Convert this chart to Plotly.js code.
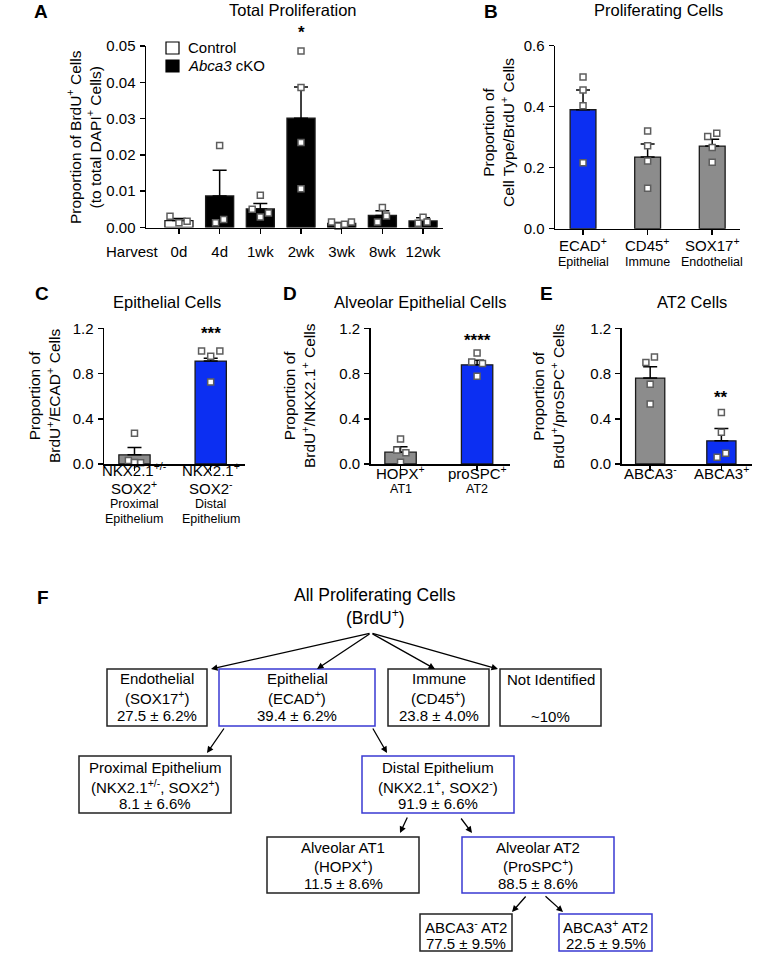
<!DOCTYPE html>
<html><head><meta charset="utf-8">
<script src="https://cdn.plot.ly/plotly-3.0.1.min.js"></script>
<style>html,body{margin:0;padding:0;background:#fff}</style>
</head><body><div id="chart" style="width:759px;height:953px"></div>
<script>
// ---------------- DATA ----------------
// Panel A: Total Proliferation
const harvestLabels = ['0d','4d','1wk','2wk','3wk','8wk','12wk'];
const harvestGroup  = ['Control','cKO','cKO','cKO','cKO','cKO','cKO'];
const totalMean = [0.0019,0.0087,0.0051,0.0301,0.0011,0.0033,0.0018];
const totalSem  = [0.0006,0.0071,0.0015,0.0086,0.0003,0.0013,0.0009];
const totalPoints = [[0.0031,0.0013,0.0017],[0.0013,0.0226,0.0022],[0.0050,0.0029,0.0040,0.0089],
  [0.0486,0.0386,0.0234,0.0107],[0.0015,0.0004,0.0009,0.0015],[0.0015,0.0055,0.0032],[0.0012,0.0028,0.0015]];
const totalJitter = [[-0.22,0,0.2],[-0.1,0,0.1],[-0.2,0,0.2,0],[0,0,0,0],[-0.25,-0.09,0.07,0.24],[-0.12,0,0.1],[-0.12,0,0.1]];

// Panel B: Proliferating Cells
const typeLabels = ['ECAD<sup>+</sup>','CD45<sup>+</sup>','SOX17<sup>+</sup>'];
const typeSub    = ['Epithelial','Immune','Endothelial'];
const typeMean = [0.390,0.235,0.271];
const typeSem  = [0.065,0.043,0.022];
const typePoints = [[0.497,0.455,0.403,0.216],[0.320,0.272,0.222,0.133],[0.302,0.313,0.266,0.218]];
const typeJitter = [[0,0,0,0],[0,0,0,0],[-0.07,0.07,0,0]];

// Panel C: Epithelial Cells
const epiLabels = [['NKX2.1<sup>+/-</sup>','SOX2<sup>+</sup>'],['NKX2.1<sup>+</sup>','SOX2<sup>-</sup>']];
const epiSub    = [['Proximal','Epithelium'],['Distal','Epithelium']];
const epiMean = [0.081,0.910];
const epiSem  = [0.066,0.026];
const epiPoints = [[0.271,0.030,0.010,0.014],[1.0,1.0,0.953,0.726]];
const epiJitter = [[0,-0.08,0.08,0],[-0.12,0.12,0,0]];

// Panel D: Alveolar Epithelial Cells
const alvLabels = ['HOPX<sup>+</sup>','proSPC<sup>+</sup>'];
const alvSub    = ['AT1','AT2'];
const alvMean = [0.105,0.877];
const alvSem  = [0.047,0.041];
const alvPoints = [[0.220,0.124,0.100,0.015],[0.982,0.903,0.889,0.777]];
const alvJitter = [[0,-0.05,0.07,0],[0,-0.07,0.07,0]];

// Panel E: AT2 Cells
const at2Labels = ['ABCA3<sup>-</sup>','ABCA3<sup>+</sup>'];
const at2Mean = [0.760,0.205];
const at2Sem  = [0.100,0.110];
const at2Points = [[0.898,0.947,0.706,0.530],[0.456,0.280,0.094,0.060]];
const at2Jitter = [[-0.06,0.06,0,0],[0,0,0.06,-0.06]];

// Panel F: flowchart texts
const flowTitle = ['All Proliferating Cells','(BrdU<sup>+</sup>)'];
const flowBoxes = [
  ['Endothelial','(SOX17<sup>+</sup>)','27.5 ± 6.2%'],
  ['Epithelial','(ECAD<sup>+</sup>)','39.4 ± 6.2%'],
  ['Immune','(CD45<sup>+</sup>)','23.8 ± 4.0%'],
  ['Not Identified','','~10%'],
  ['Proximal Epithelium','(NKX2.1<sup>+/-</sup>, SOX2<sup>+</sup>)','8.1 ± 6.6%'],
  ['Distal Epithelium','(NKX2.1<sup>+</sup>, SOX2<sup>-</sup>)','91.9 ± 6.6%'],
  ['Alveolar AT1','(HOPX<sup>+</sup>)','11.5 ± 8.6%'],
  ['Alveolar AT2','(ProSPC<sup>+</sup>)','88.5 ± 8.6%'],
  ['ABCA3<sup>-</sup> AT2','77.5 ± 9.5%'],
  ['ABCA3<sup>+</sup> AT2','22.5 ± 9.5%']
];
const flowHighlight = [false,true,false,false,false,true,false,true,false,true];

// ---------------- STYLE / LAYOUT ----------------
const W=759, H=953;
const FONT='Liberation Sans, Arial, Helvetica, sans-serif';
const BLUE='#0c2ff2', GRAY='#8c8c8c', BOXBLUE='#3a3ad2';
const X=p=>p/W, Y=p=>1-p/H;
const traces=[], annotations=[], shapes=[];

function barTrace(ax, ay, xs, ys, sem, colors, extra){
  return {type:'bar', x:xs, y:ys, xaxis:ax, yaxis:ay, width:extra.width,
    marker:{color:colors, line:{color:'#1a1a1a', width:1.3}},
    error_y:{type:'data', symmetric:false, array:sem, arrayminus:sem.map(()=>0), color:'#000', thickness:1.5, width:extra.cap},
    showlegend:false, hoverinfo:'skip'};
}
function ptsTrace(ax, ay, pts, jit){
  const xs=[], ys=[];
  pts.forEach((arr,i)=>arr.forEach((v,j)=>{xs.push(i+jit[i][j]); ys.push(v);}));
  return {type:'scatter', mode:'markers', x:xs, y:ys, xaxis:ax, yaxis:ay, showlegend:false, hoverinfo:'skip', cliponaxis:false,
    marker:{symbol:'square', size:6, color:'#fff', line:{color:'#5e5e5e', width:1.5}}};
}

// Panel A bars
const idx = harvestLabels.map((_,i)=>i);
const ctrl = idx.filter(i=>harvestGroup[i]==='Control');
const cko  = idx.filter(i=>harvestGroup[i]==='cKO');
traces.push(barTrace('x','y', ctrl, ctrl.map(i=>totalMean[i]), ctrl.map(i=>totalSem[i]), '#fff', {width:0.69, cap:7}));
traces.push(barTrace('x','y', cko, cko.map(i=>totalMean[i]), cko.map(i=>totalSem[i]), '#000', {width:0.69, cap:7}));
traces.push(ptsTrace('x','y', totalPoints, totalJitter));
// Panel B
traces.push(barTrace('x2','y2',[0,1,2], typeMean, typeSem, [BLUE,GRAY,GRAY], {width:0.40, cap:7}));
traces.push(ptsTrace('x2','y2', typePoints, typeJitter));
// Panel C
traces.push(barTrace('x3','y3',[0,1], epiMean, epiSem, [GRAY,BLUE], {width:0.41, cap:7}));
traces.push(ptsTrace('x3','y3', epiPoints, epiJitter));
// Panel D
traces.push(barTrace('x4','y4',[0,1], alvMean, alvSem, [GRAY,BLUE], {width:0.41, cap:7}));
traces.push(ptsTrace('x4','y4', alvPoints, alvJitter));
// Panel E
traces.push(barTrace('x5','y5',[0,1], at2Mean, at2Sem, [GRAY,BLUE], {width:0.41, cap:7}));
traces.push(ptsTrace('x5','y5', at2Points, at2Jitter));

const axBase = {showline:true, linecolor:'#000', linewidth:1.5, ticks:'outside', ticklen:5, tickwidth:1.5, tickcolor:'#000',
  showgrid:false, zeroline:false, fixedrange:true, tickfont:{size:15, color:'#000', family:FONT}};
function xa(d0,d1,r0,r1,anchor,extra){return Object.assign({},axBase,{domain:[X(d0),X(d1)], range:[r0,r1], anchor:anchor, tickvals:[], showticklabels:false},extra||{});}
function ya(top,bot,rmax,dt,fmt,anchor){return Object.assign({},axBase,{domain:[Y(bot),Y(top)], range:[0,rmax], dtick:dt, tick0:0, tickformat:fmt, anchor:anchor, ticklabelstandoff:1});}

function txt(x,y,text,size,opts){return Object.assign({xref:'paper',yref:'paper',x:X(x),y:Y(y),text:text,showarrow:false,
  font:{size:size,color:'#000',family:FONT},xanchor:'center',yanchor:'middle'},opts||{});}
function axtxt(xref,x,y,text,size){return {xref:xref,yref:'paper',x:x,y:Y(y),text:text,showarrow:false,
  font:{size:size,color:'#000',family:FONT},xanchor:'center',yanchor:'middle'};}

// panel letters & titles
[['A',41,12],['B',491,12],['C',42,293],['D',290,293],['E',546,293],['F',43,597]].forEach(l=>
  annotations.push(txt(l[1],l[2],'<b>'+l[0]+'</b>',19)));
annotations.push(txt(292,10,'Total Proliferation',16.5));
annotations.push(txt(658,10,'Proliferating Cells',16.5));
annotations.push(txt(167,302,'Epithelial Cells',16.5));
annotations.push(txt(420,302,'Alveolar Epithelial Cells',16.5));
annotations.push(txt(692,302,'AT2 Cells',16.5));
// y-axis titles
annotations.push(txt(84,137,'Proportion of BrdU<sup>+</sup> Cells<br>(to total DAPI<sup>+</sup> Cells)',15.5,{textangle:-90}));
annotations.push(txt(498,133,'Proportion of<br>Cell Type/BrdU<sup>+</sup> Cells',15.5,{textangle:-90}));
annotations.push(txt(45,396,'Proportion of<br>BrdU<sup>+</sup>/ECAD<sup>+</sup> Cells',15.5,{textangle:-90}));
annotations.push(txt(300,396,'Proportion of<br>BrdU<sup>+</sup>/NKX2.1<sup>+</sup> Cells',15.5,{textangle:-90}));
annotations.push(txt(549,396,'Proportion of<br>BrdU<sup>+</sup>/proSPC<sup>+</sup> Cells',15.5,{textangle:-90}));
// Panel A extras
annotations.push(txt(132,251,'Harvest',15));
annotations.push(axtxt('x',3,33,'<b>*</b>',17));
shapes.push({type:'rect',xref:'paper',yref:'paper',x0:X(166),x1:X(179),y0:Y(54),y1:Y(42),line:{color:'#000',width:1.2},fillcolor:'#fff'});
shapes.push({type:'rect',xref:'paper',yref:'paper',x0:X(166),x1:X(179),y0:Y(72),y1:Y(60),line:{color:'#000',width:1.2},fillcolor:'#000'});
annotations.push(txt(186,48,'Control',15,{xanchor:'left'}));
annotations.push(txt(186,66,'<i>Abca3</i> cKO',15,{xanchor:'left'}));
// Panel B tick labels
typeLabels.forEach((t,i)=>{annotations.push(axtxt('x2',i,245,t,15)); annotations.push(axtxt('x2',i,262,typeSub[i],12.5));});
// Panel C tick labels
epiLabels.forEach((t,i)=>{annotations.push(axtxt('x3',i,469.5,t[0],15)); annotations.push(axtxt('x3',i,488,t[1],15));
  annotations.push(axtxt('x3',i,504,epiSub[i][0],12.5)); annotations.push(axtxt('x3',i,519,epiSub[i][1],12.5));});
annotations.push(axtxt('x3',1,333,'<b>***</b>',17));
// Panel D
alvLabels.forEach((t,i)=>{annotations.push(axtxt('x4',i,472,t,15)); annotations.push(axtxt('x4',i,488.5,alvSub[i],12.5));});
annotations.push(axtxt('x4',1,340,'<b>****</b>',17));
// Panel E
at2Labels.forEach((t,i)=>annotations.push(axtxt('x5',i,472,t,15)));
annotations.push(axtxt('x5',1,398,'<b>**</b>',17));

// ---------------- Panel F flowchart geometry ----------------
annotations.push(txt(375,595,flowTitle[0],17.5));
annotations.push(txt(375,617,flowTitle[1],17.5));
const boxGeom = [ // x0,x1,y0,y1, line y positions
  [107,207,669,726,[678,697,715]],
  [219,375,669,726,[678,697,715]],
  [388,489,669,726,[678,697,715]],
  [500,601,669,726,[679,697,716]],
  [79,231,756,813,[767,786,803]],
  [362,514,756,813,[767,786,803]],
  [267,419,837,893,[847,865,883]],
  [462,614,837,893,[847,865,883]],
  [420,512,914,951,[926,943]],
  [559,652,914,951,[926,943]]
];
flowBoxes.forEach((lines,i)=>{
  const g=boxGeom[i];
  shapes.push({type:'rect',xref:'paper',yref:'paper',x0:X(g[0]),x1:X(g[1]),y0:Y(g[3]),y1:Y(g[2]),
    line:{color:flowHighlight[i]?BOXBLUE:'#222',width:1.5},fillcolor:'rgba(0,0,0,0)'});
  lines.forEach((t,j)=>{ if(t) annotations.push(txt((g[0]+g[1])/2,g[4][j],t,15)); });
});
const arrows = [ // tail x,y -> tip x,y
  [371,633,211,669],[371,633,317,669],[371,633,435,669],[371,633,498,669],
  [225,727,207,753],[372,727,387,753],
  [408,816,400,833],[460,817,472,833],
  [527,895,512,912],[544,895,563,912]
];
arrows.forEach(a=>annotations.push({xref:'paper',yref:'paper',x:X(a[2]),y:Y(a[3]),ax:a[0]-a[2],ay:a[1]-a[3],
  text:'',showarrow:true,arrowhead:2,arrowsize:1,arrowwidth:1.3,arrowcolor:'#000',standoff:0,startstandoff:0}));

const layout = {
  width:W, height:H, margin:{l:0,r:0,t:0,b:0}, paper_bgcolor:'#fff', plot_bgcolor:'rgba(0,0,0,0)',
  font:{family:FONT, color:'#000'}, showlegend:false, barmode:'overlay',
  xaxis: xa(146,443,-0.81,6.49,'y',{tickvals:idx, ticktext:harvestLabels, showticklabels:true, ticklabelstandoff:5}),
  yaxis: ya(46,227.5,0.05,0.01,'.2f','x'),
  xaxis2: xa(555,740,-0.434,2.43,'y2',{tickvals:[0,1,2]}),
  yaxis2: ya(45.7,228.7,0.6,0.2,'.1f','x2'),
  xaxis3: xa(104,245,-0.40,1.45,'y3',{tickvals:[0,1]}),
  yaxis3: ya(328.3,464,1.2,0.4,'.1f','x3'),
  xaxis4: xa(370.7,510,-0.39,1.43,'y4',{tickvals:[0,1]}),
  yaxis4: ya(328.3,464,1.2,0.4,'.1f','x4'),
  xaxis5: xa(621.7,752,-0.40,1.43,'y5',{tickvals:[0,1]}),
  yaxis5: ya(328.3,464,1.2,0.4,'.1f','x5'),
  annotations:annotations, shapes:shapes
};
Plotly.newPlot('chart', traces, layout, {staticPlot:true, displayModeBar:false});
</script></body></html>
